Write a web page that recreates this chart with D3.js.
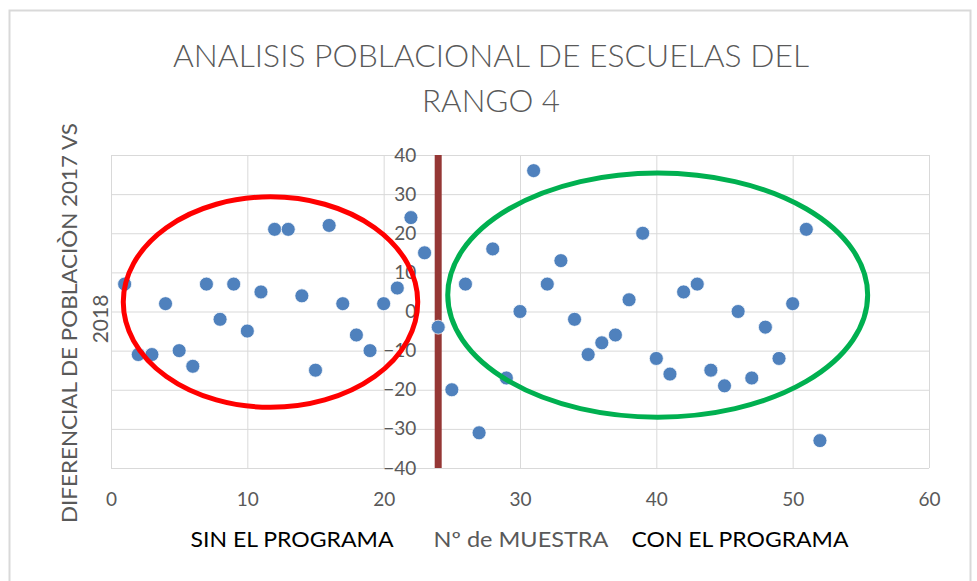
<!DOCTYPE html>
<html>
<head>
<meta charset="utf-8">
<script src="https://cdnjs.cloudflare.com/ajax/libs/d3/7.8.5/d3.min.js"></script>
<style>
  body { margin: 0; background: #fff; }
  text { font-family: Lato, "Open Sans", sans-serif; }
</style>
</head>
<body>
<svg id="chart" width="977" height="581"></svg>
<script>

// muestras sin el programa (1-24) y con el programa (25-52)
const muestraSin = [1, 2, 3, 4, 5, 6, 7, 8, 9, 10, 11, 12, 13, 14, 15, 16, 17, 18, 19, 20, 21, 22, 23, 24];
const difSin = [7, -11, -11, 2, -10, -14, 7, -2, 7, -5, 5, 21, 21, 4, -15, 22, 2, -6, -10, 2, 6, 24, 15, -4];

const muestraCon = [25, 26, 27, 28, 29, 30, 31, 32, 33, 34, 35, 36, 37, 38, 39, 40, 41, 42, 43, 44, 45, 46, 47, 48, 49, 50, 51, 52];
const difCon = [-20, 7, -31, 16, -17, 0, 36, 7, 13, -2, -11, -8, -6, 3, 20, -12, -16, 5, 7, -15, -19, 0, -17, -4, -12, 2, 21, -33];

const xTicks = [0, 10, 20, 30, 40, 50, 60];
const yTicks = [-40, -30, -20, -10, 0, 10, 20, 30, 40];
const cruceEjeY = 24;

// circulos de anotacion, en unidades de los datos
const elipses = [
  { cx: 11.7, cy: 2.4, rx: 10.8, ry: 26.9, color: "#FF0000" },
  { cx: 40.1, cy: 4.2, rx: 15.4, ry: 31.2, color: "#00B050" }
];

const svg = d3.select("#chart");

const margin = { left: 111, right: 929, top: 155, bottom: 468 };

const x = d3.scaleLinear().domain([0, 60]).range([margin.left, margin.right]);
const y = d3.scaleLinear().domain([-40, 40]).range([margin.bottom, margin.top]);

// marco del grafico
svg.append("rect")
  .attr("x", 9.5).attr("y", 10.5)
  .attr("width", 961).attr("height", 600)
  .attr("fill", "#fff")
  .attr("stroke", "#D9D9D9")
  .attr("stroke-width", 2);

// rejilla
svg.append("g").selectAll("line").data(xTicks)
  .enter().append("line")
    .attr("x1", d => x(d) + 0.5).attr("x2", d => x(d) + 0.5)
    .attr("y1", margin.top).attr("y2", margin.bottom)
    .attr("stroke", "#D9D9D9");

svg.append("g").selectAll("line").data(yTicks)
  .enter().append("line")
    .attr("x1", margin.left).attr("x2", margin.right)
    .attr("y1", d => y(d) + 0.5).attr("y2", d => y(d) + 0.5)
    .attr("stroke", "#D9D9D9");

// eje vertical en la muestra 24
svg.append("line")
  .attr("x1", x(cruceEjeY)).attr("x2", x(cruceEjeY))
  .attr("y1", margin.top).attr("y2", margin.bottom)
  .attr("stroke", "#953735")
  .attr("stroke-width", 7);

const ejeY = svg.append("g")
  .attr("transform", `translate(${x(cruceEjeY)},0)`)
  .call(d3.axisLeft(y).tickValues(yTicks).tickSize(0).tickPadding(22));
ejeY.select(".domain").remove();
ejeY.selectAll("text")
  .attr("fill", "#595959")
  .style("font-size", "19px");

const ejeX = svg.append("g")
  .attr("transform", `translate(0,${margin.bottom})`)
  .call(d3.axisBottom(x).tickValues(xTicks).tickSize(0).tickPadding(25));
ejeX.select(".domain").remove();
ejeX.selectAll("text")
  .attr("fill", "#595959")
  .style("font-size", "19px");

// puntos
const puntos = muestraSin.map((m, i) => ({ m: m, d: difSin[i] }))
  .concat(muestraCon.map((m, i) => ({ m: m, d: difCon[i] })));

svg.append("g").selectAll("circle").data(puntos)
  .enter().append("circle")
    .attr("cx", d => x(d.m))
    .attr("cy", d => y(d.d))
    .attr("r", 7)
    .attr("fill", "#4F81BD")
    .attr("stroke", "#fff")
    .attr("stroke-width", 0.75);

// elipses
svg.append("g").selectAll("ellipse").data(elipses)
  .enter().append("ellipse")
    .attr("cx", d => x(d.cx))
    .attr("cy", d => y(d.cy))
    .attr("rx", d => x(d.rx) - x(0))
    .attr("ry", d => y(0) - y(d.ry))
    .attr("fill", "none")
    .attr("stroke", d => d.color)
    .attr("stroke-width", 5);

// titulo
const titulo = svg.append("g").attr("fill", "#595959").style("font-size", "31px").style("font-weight", 300);
titulo.append("text").attr("x", 491).attr("y", 67).attr("text-anchor", "middle")
  .attr("textLength", 636).attr("lengthAdjust", "spacingAndGlyphs")
  .text("ANALISIS POBLACIONAL DE ESCUELAS DEL");
titulo.append("text").attr("x", 491).attr("y", 112).attr("text-anchor", "middle")
  .attr("textLength", 138).attr("lengthAdjust", "spacingAndGlyphs")
  .text("RANGO 4");

// titulo eje Y
const tituloY = svg.append("g").attr("fill", "#595959").style("font-size", "21px");
tituloY.append("text")
  .attr("transform", "translate(77,323) rotate(-90)")
  .attr("text-anchor", "middle")
  .attr("textLength", 400).attr("lengthAdjust", "spacingAndGlyphs")
  .text("DIFERENCIAL DE POBLACIÒN 2017 VS");
tituloY.append("text")
  .attr("transform", "translate(108,319) rotate(-90)")
  .attr("text-anchor", "middle")
  .text("2018");

// titulo eje X
const tituloX = svg.append("g").style("font-size", "21px");
tituloX.append("text").attr("x", 292).attr("y", 547).attr("text-anchor", "middle")
  .attr("fill", "#000")
  .attr("textLength", 203).attr("lengthAdjust", "spacingAndGlyphs")
  .text("SIN EL PROGRAMA");
tituloX.append("text").attr("x", 521).attr("y", 547).attr("text-anchor", "middle")
  .attr("fill", "#595959")
  .attr("textLength", 175).attr("lengthAdjust", "spacingAndGlyphs")
  .text("Nº de MUESTRA");
tituloX.append("text").attr("x", 740).attr("y", 547).attr("text-anchor", "middle")
  .attr("fill", "#000")
  .attr("textLength", 217).attr("lengthAdjust", "spacingAndGlyphs")
  .text("CON EL PROGRAMA");

</script>
</body>
</html>
